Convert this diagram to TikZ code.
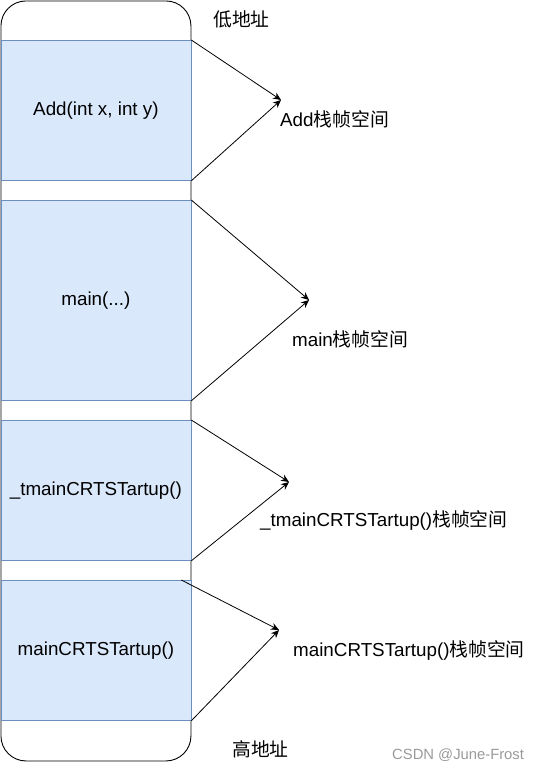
\documentclass[tikz,border=0pt]{standalone}
\usepackage{fontspec}
\setmainfont{Liberation Sans}
\newfontfamily\cjk{Noto Sans CJK SC}
\usetikzlibrary{positioning, arrows.meta}
\definecolor{framefill}{HTML}{DAE8FC}
\definecolor{framedraw}{HTML}{6C8EBF}
\definecolor{markgray}{HTML}{9A9A9A}

\begin{document}
\begin{tikzpicture}[x=1pt, y=-1pt,
    stackframe/.style={draw=framedraw, fill=framefill, line width=0.8pt,
          minimum width=190pt, inner sep=0pt, anchor=north west,
          font=\fontsize{18.8}{22}\selectfont},
    notetext/.style={inner sep=0pt, anchor=west, font=\fontsize{18.8}{22}\selectfont},
    pointer/.style={line width=0.8pt, -{Stealth[length=8pt, width=7pt]}}]
    \useasboundingbox (0,0) rectangle (541,771);
    \node[draw, line width=0.9pt, rounded corners=25pt, minimum width=190pt,
          minimum height=760pt, inner sep=0pt, anchor=north west] (stack) at (0.5,0.5) {};
    \node[stackframe, minimum height=140pt] (add) at (0.5,40) {Add(int x, int y)};
    \node[stackframe, minimum height=200pt] (main) at (0.5,200) {main(...)};
    \node[stackframe, minimum height=140pt] (tmain) at (0.5,420) {\_tmainCRTSTartup()};
    \node[stackframe, minimum height=140pt] (crt) at (0.5,580) {mainCRTSTartup()};
    \coordinate (addtip) at (281,100);
    \coordinate (maintip) at (309,300);
    \coordinate (tmaintip) at (289,482);
    \coordinate (crttip) at (279,630);
    \draw[pointer] (add.north east) -- (addtip);
    \draw[pointer] (add.south east) -- (addtip);
    \draw[pointer] (main.north east) -- (maintip);
    \draw[pointer] (main.south east) -- (maintip);
    \draw[pointer] (tmain.north east) -- (tmaintip);
    \draw[pointer] (tmain.south east) -- (tmaintip);
    \draw[pointer] ([xshift=-10pt]crt.north east) -- (crttip);
    \draw[pointer] (crt.south east) -- (crttip);
    \node[notetext] (low) at (213,19) {\cjk 低地址};
    \node[notetext] (addnote) at (280,119) {Add{\cjk 栈帧空间}};
    \node[notetext] (mainnote) at (292,339) {main{\cjk 栈帧空间}};
    \node[notetext] (tmainnote) at (260,520) {\_tmainCRTSTartup(){\cjk 栈帧空间}};
    \node[notetext] (crtnote) at (293,650) {mainCRTSTartup(){\cjk 栈帧空间}};
    \node[notetext] (high) at (232,749) {\cjk 高地址};
    \node[inner sep=0pt, anchor=west, text=markgray, font=\fontsize{14.8}{17}\selectfont]
          (mark) at (392,755) {CSDN @June-Frost};
\end{tikzpicture}
\end{document}
